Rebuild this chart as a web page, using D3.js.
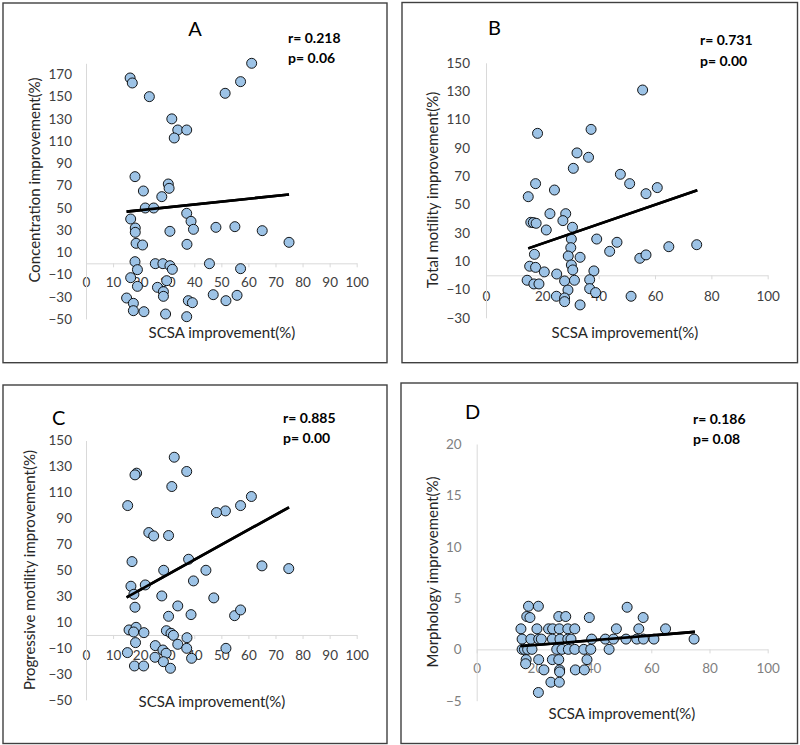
<!DOCTYPE html>
<html><head><meta charset="utf-8">
<script src="https://cdn.jsdelivr.net/npm/d3@7"></script>
<style>
body{margin:0;background:#fff}
svg{display:block}
text{font-family:Lato,"Open Sans",sans-serif}
</style>
</head><body>
<svg id="c" width="800" height="745"></svg>
<script>
// ---------- data ----------
const scsaA = [16.3,17.1,23.4,61.2,57.1,51.4,31.7,33.9,37.2,32.6,18.1,30.4,30.7,21.2,28,21.9,25,16.5,37.2,38.8,39.7,18.2,18.2,31,48,55,65.1,75,18.5,20.9,37.3,18.1,25.6,28.4,31,31.9,19,45.6,57.1,16.5,29.8,19,26.4,28.6,28.6,15,47,55.8,51.7,37.8,39.3,17.5,17.5,21.4,29.4,37.2];
const concA = [166.8,162.3,150,180,163.5,153,130,120,120,112.8,78,71.4,67.5,65.1,60,49.8,49.8,39.9,45,37.8,30.6,31.8,27.9,28.8,32.4,33,29.4,18.9,18,16.5,17.1,1.5,-0.3,-0.3,-2.1,-5.4,-5.7,-0.3,-4.8,-12.9,-15.6,-20.7,-21.6,-25.5,-29.7,-31.2,-28.2,-28.8,-33.6,-33.6,-35.4,-36,-42.6,-43.5,-45.6,-48];

const scsaB = [55.6,37.3,18.3,32.3,36.4,31,47.7,51,60.8,56.8,17.6,24.3,15,22.7,28.3,27.3,15.9,16.8,17.8,21.4,30.7,30.3,39.3,46.5,43.9,30.1,17.2,29.2,33.4,64.9,74.8,54.6,56.8,15.5,17.6,20.7,30.3,30.8,38.3,25.1,14.6,17,18.8,27.9,31.4,36.8,29.1,36.8,38.9,25,27.9,27.9,33.4,51.5];
const motB  = [130.8,103,100.2,86.4,83.3,75.5,71.3,64.7,61.9,57.6,64.7,60.2,55.5,43.5,43.5,38.6,37.4,37.2,36.7,32,33.9,25.6,25.6,23.3,16.9,19.5,14.8,13.6,12.7,20.2,21.6,12,14.4,6.4,5.6,2.4,7.3,3.8,3.1,0.9,-3.5,-6.1,-6.1,-4,-3.5,-3.1,-10.4,-9.4,-12.2,-14.8,-16,-18.6,-20.9,-14.8];

const scsaC = [32.6,37.2,18.7,18.1,31.7,61.1,57.1,15.4,51.5,48.2,23.2,25,30.5,17,37.9,28.7,44.3,65,74.9,39.7,16.6,21.9,17.7,28,47.2,18.1,33.9,30.5,38.8,54.9,57.1,15.9,18.5,17.6,21.4,29.7,31.4,32.3,37.3,18.3,25.6,33.9,28.4,37.2,51.7,15.3,29.6,25.5,39,28.6,17.9,21.3,31.2];
const progC = [137.1,126.1,124.8,123.5,114.5,106.8,99.8,99.8,95.7,94.4,79,76.4,76.7,56.6,58.4,49.9,49.9,53.3,51.2,41.7,37.6,38.6,31.4,30.1,28.6,21.4,22.4,14.4,15.7,14.9,19.3,3.9,5.9,2.3,1.8,3.3,1.3,-0.3,-2.1,-5.9,-8.2,-7.2,-11.6,-10.3,-10.3,-13.6,-14.1,-17.2,-18,-20.6,-23.9,-23.9,-25.7];

const scsaD = [17.8,21.2,51.7, 17.2,18.3,28.2,30.6,38.7,57.2, 15.2,20.7,24.7,26.1,28.4,31.3,33.7,48,55.7,64.9, 15.6,18.6,21.3,22.2,26,28.6,31.3,32.4,39.5,44.2,47,51.3,55,57.3,60.9,74.7, 15.6,16.4,17.5,19,27.5,29.3,31.5,33.7,36.8,39.2,45.5, 17,21.3,26,28.2,37.9, 16.8, 23.1,28.5,33.9,37, 28.5, 25.5,28.4, 21.2];
const morphD = [4.2,4.2,4.1, 3.2,3.1,3.2,3.2,3.1,3.1, 2,2,2,2,2,2,2,2,2,2, 1,1,1,1,1,1,1,1,1,1,1,1,1,1,1,1, 0,0,0,0,0,0,0,0,0,0,0, -1,-1,-1,-1,-1, -1.4, -2,-2,-2,-2, -2.2, -3.2,-3.2, -4.2];

// trend line end points (x, y)
const trendA = [[15,46.5],[75,62]];
const trendB = [[15,19],[75,60]];
const trendC = [[15,29],[75,98.5]];
const trendD = [[15,0.3],[75,1.7]];

const ticksXA = [0,10,20,30,40,50,60,70,80,90,100];
const ticksXB = [0,20,40,60,80,100];
const ticksYA = [-50,-30,-10,10,30,50,70,90,110,130,150,170];
const ticksYB = [-30,-10,10,30,50,70,90,110,130,150];
const ticksYC = [-50,-30,-10,10,30,50,70,90,110,130,150];
const ticksYD = [-5,0,5,10,15,20];

const letters = ["A","B","C","D"];
const rText = ["r= 0.218","r= 0.731","r= 0.885","r= 0.186"];
const pText = ["p= 0.06","p= 0.00","p= 0.00","p= 0.08"];
const yTitles = ["Concentration improvement(%)","Total motility improvement(%)","Progressive motility improvement(%)","Morphology improvement(%)"];
const xTitle = "SCSA improvement(%)";

// ---------- layout ----------
const panels = [
  {frame:[3,3,387,362.7], xr:[86,356.7], yd:[-50,180], yr:[318.9,63.3], xt:ticksXA, yt:ticksYA,
   xs:scsaA, ys:concA, tr:trendA, letter:[195,36,"middle"], rp:[288,43,63], xtitle:[222,338], ytitle:[40,180], tickCol:"#404040", xlabOff:19, ylabOff:14},
  {frame:[402,2.5,797.5,362.7], xr:[486,767.7], yd:[-30,150], yr:[317.8,62.8], xt:ticksXB, yt:ticksYB,
   xs:scsaB, ys:motB, tr:trendB, letter:[488,35,"start"], rp:[700,45,66], xtitle:[625,338], ytitle:[438,190], tickCol:"#404040", xlabOff:21, ylabOff:16},
  {frame:[3,385,387,743.5], xr:[86,356.7], yd:[-50,150], yr:[699.8,440.5], xt:ticksXA, yt:ticksYC,
   xs:scsaC, ys:progC, tr:trendC, letter:[52,425,"start"], rp:[283,422.7,442.7], xtitle:[212,707], ytitle:[35,570], tickCol:"#404040", xlabOff:20, ylabOff:14},
  {frame:[401,383,797.5,743.5], xr:[476.7,767.7], yd:[-5,20], yr:[700.7,444], xt:ticksXB, yt:ticksYD,
   xs:scsaD, ys:morphD, tr:trendD, letter:[465,419,"start"], rp:[693,424,444], xtitle:[622,719], ytitle:[438,572], tickCol:"#7f7f7f", xlabOff:19, ylabOff:15}
];

const svg = d3.select("#c");

panels.forEach((p,i)=>{
  const g = svg.append("g");
  const [fx0,fy0,fx1,fy1] = p.frame;
  g.append("rect").attr("x",fx0).attr("y",fy0).attr("width",fx1-fx0).attr("height",fy1-fy0)
    .attr("fill","#fff").attr("stroke","#404040").attr("stroke-width",1.4);

  const x = d3.scaleLinear().domain([0,100]).range(p.xr);
  const y = d3.scaleLinear().domain(p.yd).range(p.yr);

  // x axis at y=0
  const xa = g.append("g").attr("transform",`translate(0,${y(0)})`)
    .call(d3.axisBottom(x).tickValues(p.xt).tickSize(4).tickSizeOuter(0).tickPadding(p.xlabOff-4-4.6));
  xa.select(".domain").attr("stroke","#d9d9d9").attr("stroke-width",1);
  xa.selectAll(".tick line").attr("stroke","#d9d9d9");
  xa.selectAll(".tick text").attr("fill",p.tickCol).style("font-size","13.5px").style("font-family","Lato, sans-serif");

  // y axis at x=0
  const ya = g.append("g").attr("transform",`translate(${x(0)},0)`)
    .call(d3.axisLeft(y).tickValues(p.yt).tickSize(0).tickSizeOuter(0).tickPadding(p.ylabOff));
  ya.select(".domain").attr("stroke","#d9d9d9").attr("stroke-width",1);
  ya.selectAll(".tick text").attr("fill",p.tickCol).style("font-size","13.5px").style("font-family","Lato, sans-serif");

  // trend line
  g.append("path").datum(p.tr)
    .attr("d", d3.line().x(d=>x(d[0])).y(d=>y(d[1])))
    .attr("stroke","#000").attr("stroke-width",2.6).attr("fill","none");

  // points
  g.selectAll("circle.pt").data(p.xs.map((v,k)=>[v,p.ys[k]])).join("circle")
    .attr("class","pt")
    .attr("cx",d=>x(d[0])).attr("cy",d=>y(d[1])).attr("r",5)
    .attr("fill","#9dc3e6").attr("stroke","#000").attr("stroke-width",0.9);

  // trend line drawn over points? (Excel draws trendline above markers)
  g.append("path").datum(p.tr)
    .attr("d", d3.line().x(d=>x(d[0])).y(d=>y(d[1])))
    .attr("stroke","#000").attr("stroke-width",2.6).attr("fill","none");

  // panel letter
  g.append("text").attr("x",p.letter[0]).attr("y",p.letter[1]).attr("text-anchor",p.letter[2])
    .style("font-size","20px").attr("fill","#000").text(letters[i]);

  // r / p
  g.append("text").attr("x",p.rp[0]).attr("y",p.rp[1]).style("font-size","14px").style("font-weight","bold").text(rText[i]);
  g.append("text").attr("x",p.rp[0]).attr("y",p.rp[2]).style("font-size","14px").style("font-weight","bold").text(pText[i]);

  // axis titles
  g.append("text").attr("x",p.xtitle[0]).attr("y",p.xtitle[1]).attr("text-anchor","middle")
    .style("font-size","15px").attr("fill","#262626").text(xTitle);
  g.append("text").attr("transform",`translate(${p.ytitle[0]},${p.ytitle[1]}) rotate(-90)`).attr("text-anchor","middle")
    .style("font-size","15px").attr("fill","#262626").text(yTitles[i]);
});
</script>
</body></html>
